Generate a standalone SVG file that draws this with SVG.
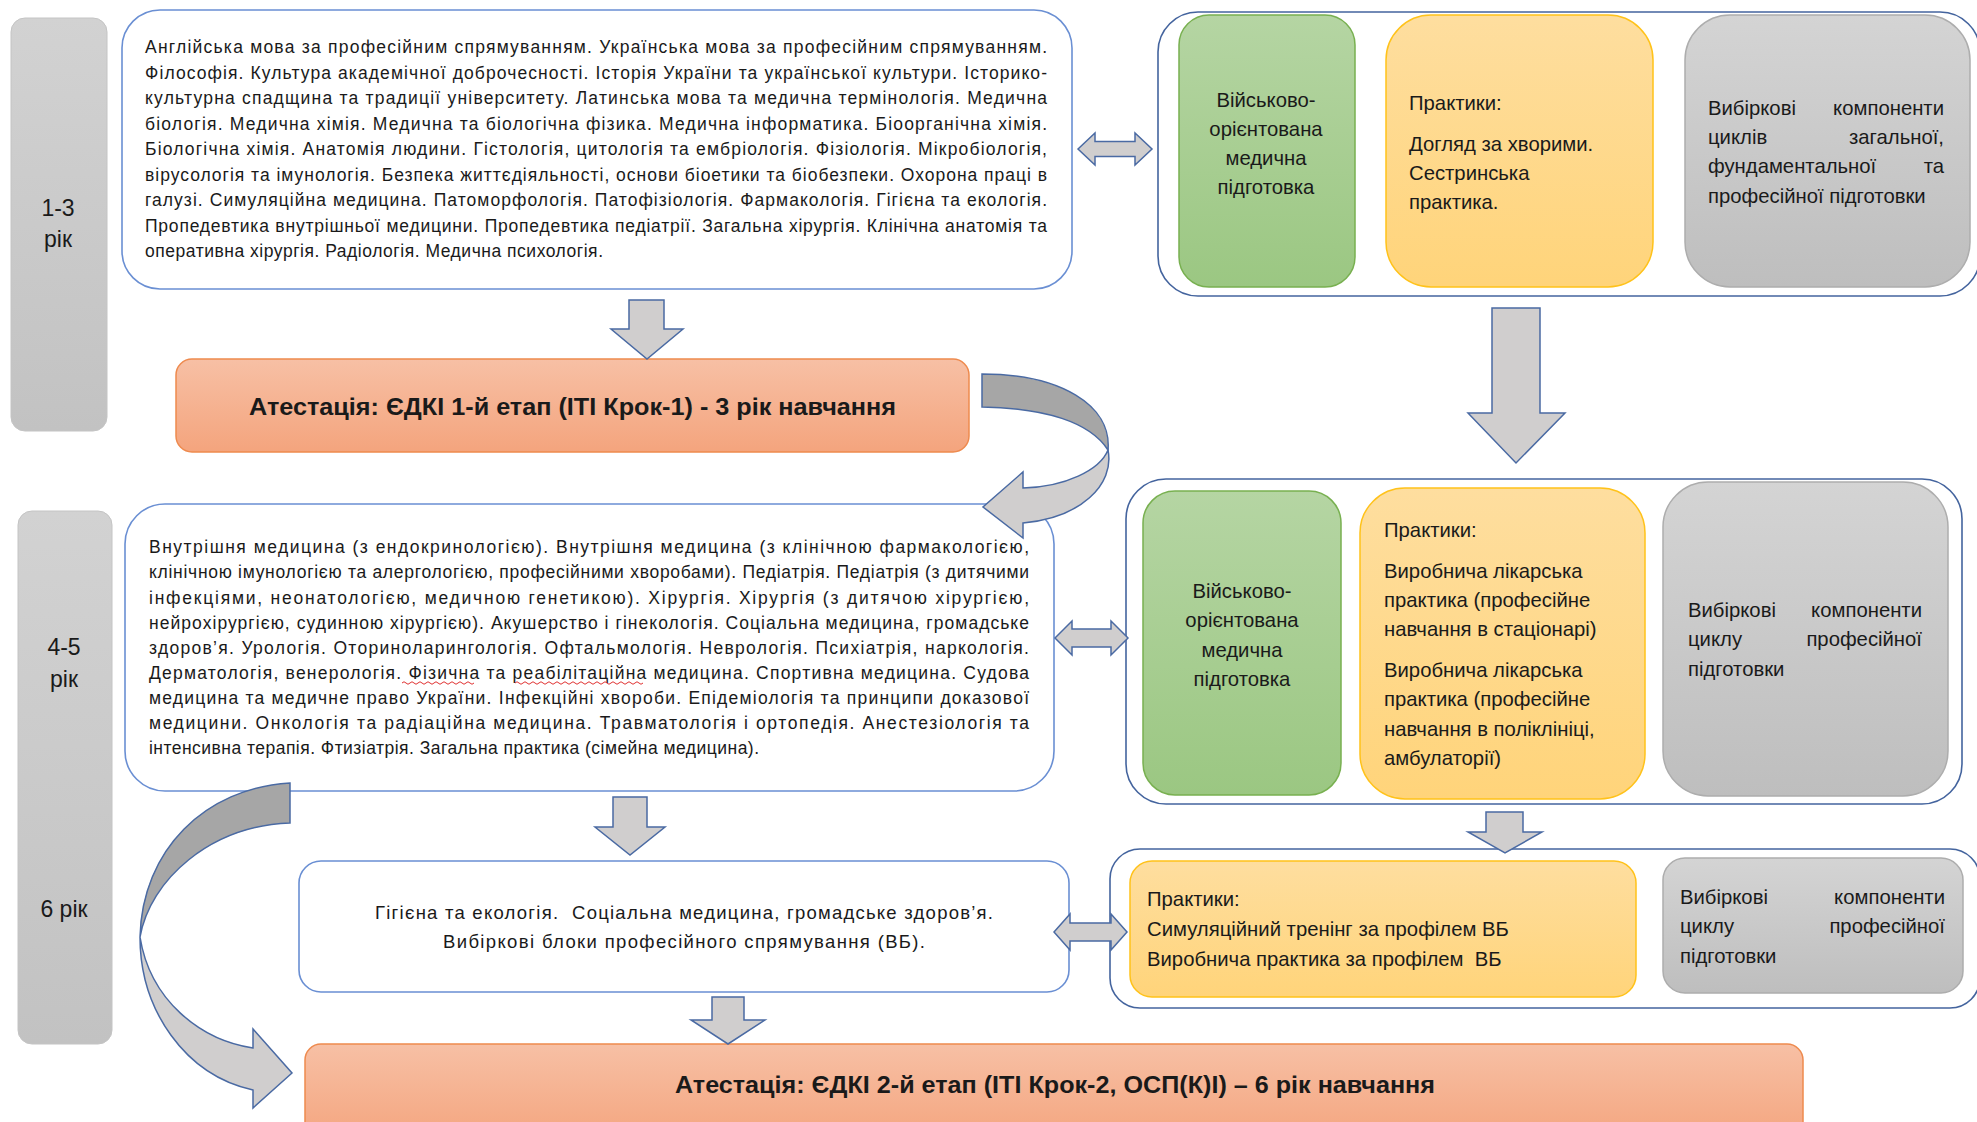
<svg xmlns="http://www.w3.org/2000/svg" width="1977" height="1122" viewBox="0 0 1977 1122">
<defs>
<linearGradient id="gGreen" x1="0" y1="0" x2="0" y2="1"><stop offset="0" stop-color="#B5D5A3"/><stop offset="1" stop-color="#9BC782"/></linearGradient>
<linearGradient id="gYellow" x1="0" y1="0" x2="0" y2="1"><stop offset="0" stop-color="#FEDE9F"/><stop offset="1" stop-color="#FFD47A"/></linearGradient>
<linearGradient id="gGray" x1="0" y1="0" x2="0" y2="1"><stop offset="0" stop-color="#D4D4D4"/><stop offset="1" stop-color="#BEBEBE"/></linearGradient>
<linearGradient id="gOrange" x1="0" y1="0" x2="0" y2="1"><stop offset="0" stop-color="#F7C0A5"/><stop offset="1" stop-color="#F4A47D"/></linearGradient>
<linearGradient id="gBar" x1="0" y1="0" x2="0" y2="1"><stop offset="0" stop-color="#D2D2D2"/><stop offset="1" stop-color="#C2C2C2"/></linearGradient>
</defs>
<style>
.t{font-family:"Liberation Sans",Arial,sans-serif;fill:#1a1a1a}
.body{font-size:17.5px}
.r{font-size:20.3px}
.lbl{font-size:23px}
.att{font-size:24px;font-weight:bold}
.pre{white-space:pre}
.bar{fill:url(#gBar);stroke:#C4C4C4;stroke-width:1}
.wbox{fill:#fff;stroke:#6A8FD3;stroke-width:1.6}
.cont{fill:#fff;stroke:#44649E;stroke-width:1.6}
.green{fill:url(#gGreen);stroke:#78B050;stroke-width:1.5}
.yellow{fill:url(#gYellow);stroke:#FFC21A;stroke-width:1.5}
.gray{fill:url(#gGray);stroke:#ADADAD;stroke-width:1.5}
.orange{fill:url(#gOrange);stroke:#EE8A4E;stroke-width:1.5}
.arr{fill:#D0CECE;stroke:#4A6AA3;stroke-width:1.5;stroke-linejoin:miter}
.arrd{fill:#A6A6A6;stroke:#4A6AA3;stroke-width:1.5}
.sq{fill:none;stroke:#E03030;stroke-width:1}
</style>
<rect width="1977" height="1122" fill="#fff"/>

<g id="bar-1-3">
<rect class="bar" x="11" y="18" width="96" height="413" rx="14"/>
<text class="t lbl" x="58" y="216" text-anchor="middle">1-3</text>
<text class="t lbl" x="58" y="247" text-anchor="middle">рік</text>
</g>
<g id="bar-4-6">
<rect class="bar" x="18" y="511" width="94" height="533" rx="14"/>
<text class="t lbl" x="64" y="655" text-anchor="middle">4-5</text>
<text class="t lbl" x="64" y="687" text-anchor="middle">рік</text>
<text class="t lbl" x="64" y="917" text-anchor="middle">6 рік</text>
</g>

<g id="box1">
<rect class="wbox" x="122" y="10" width="950" height="279" rx="38"/>
<g class="t body">
<text x="145" y="53" textLength="902" lengthAdjust="spacing">Англійська мова за професійним спрямуванням. Українська мова за професійним спрямуванням.</text>
<text x="145" y="78.5" textLength="902" lengthAdjust="spacing">Філософія. Культура академічної доброчесності. Історія України та української культури. Історико-</text>
<text x="145" y="104" textLength="902" lengthAdjust="spacing">культурна спадщина та традиції університету. Латинська мова та медична термінологія. Медична</text>
<text x="145" y="129.5" textLength="902" lengthAdjust="spacing">біологія. Медична хімія. Медична та біологічна фізика. Медична інформатика. Біоорганічна хімія.</text>
<text x="145" y="155" textLength="902" lengthAdjust="spacing">Біологічна хімія. Анатомія людини. Гістологія, цитологія та ембріологія. Фізіологія. Мікробіологія,</text>
<text x="145" y="180.5" textLength="902" lengthAdjust="spacing">вірусологія та імунологія. Безпека життєдіяльності, основи біоетики та біобезпеки. Охорона праці в</text>
<text x="145" y="206" textLength="902" lengthAdjust="spacing">галузі. Симуляційна медицина. Патоморфологія. Патофізіологія. Фармакологія. Гігієна та екологія.</text>
<text x="145" y="231.5" textLength="902" lengthAdjust="spacing">Пропедевтика внутрішньої медицини. Пропедевтика педіатрії. Загальна хірургія. Клінічна анатомія та</text>
<text x="145" y="257" textLength="458" lengthAdjust="spacing">оперативна хірургія. Радіологія. Медична психологія.</text>
</g>
</g>

<g id="cont1">
<rect class="cont" x="1158" y="12" width="822" height="284" rx="40"/>
</g>
<g id="green1">
<rect class="green" x="1179" y="15" width="176" height="272" rx="30"/>
<g class="t r" text-anchor="middle">
<text x="1266" y="107">Військово-</text>
<text x="1266" y="136">орієнтована</text>
<text x="1266" y="165">медична</text>
<text x="1266" y="194">підготовка</text>
</g>
</g>
<g id="yellow1">
<rect class="yellow" x="1386" y="15" width="267" height="272" rx="45"/>
<g class="t r">
<text x="1409" y="110">Практики:</text>
<text x="1409" y="151">Догляд за хворими.</text>
<text x="1409" y="180">Сестринська</text>
<text x="1409" y="209">практика.</text>
</g>
</g>
<g id="gray1">
<rect class="gray" x="1685" y="15" width="285" height="272" rx="45"/>
<g class="t r">
<text x="1708" y="115">Вибіркові</text><text x="1944" y="115" text-anchor="end">компоненти</text>
<text x="1708" y="144">циклів</text><text x="1944" y="144" text-anchor="end">загальної,</text>
<text x="1708" y="173">фундаментальної</text><text x="1944" y="173" text-anchor="end">та</text>
<text x="1708" y="203">професійної підготовки</text>
</g>
</g>

<g id="att1">
<rect class="orange" x="176" y="359" width="793" height="93" rx="16"/>
<text class="t att" x="249" y="415" textLength="647" lengthAdjust="spacingAndGlyphs">Атестація: ЄДКІ 1-й етап (ІТІ Крок-1) - 3 рік навчання</text>
</g>

<g id="box2">
<rect class="wbox" x="125" y="504" width="929" height="287" rx="40"/>
<g class="t body">
<text x="149" y="553" textLength="880" lengthAdjust="spacing">Внутрішня медицина (з ендокринологією). Внутрішня медицина (з клінічною фармакологією,</text>
<text x="149" y="578" textLength="880" lengthAdjust="spacing">клінічною імунологією та алергологією, професійними хворобами). Педіатрія. Педіатрія (з дитячими</text>
<text x="149" y="603.5" textLength="880" lengthAdjust="spacing">інфекціями, неонатологією, медичною генетикою). Хірургія. Хірургія (з дитячою хірургією,</text>
<text x="149" y="628.5" textLength="880" lengthAdjust="spacing">нейрохірургією, судинною хірургією). Акушерство і гінекологія. Соціальна медицина, громадське</text>
<text x="149" y="654" textLength="880" lengthAdjust="spacing">здоров’я. Урологія. Оториноларингологія. Офтальмологія. Неврологія. Психіатрія, наркологія.</text>
<text x="149" y="679" textLength="880" lengthAdjust="spacing">Дерматологія, венерологія. Фізична та реабілітаційна медицина. Спортивна медицина. Судова</text>
<text x="149" y="704" textLength="880" lengthAdjust="spacing">медицина та медичне право України. Інфекційні хвороби. Епідеміологія та принципи доказової</text>
<text x="149" y="729" textLength="880" lengthAdjust="spacing">медицини. Онкологія та радіаційна медицина. Травматологія і ортопедія. Анестезіологія та</text>
<text x="149" y="754" textLength="610" lengthAdjust="spacing">інтенсивна терапія. Фтизіатрія. Загальна практика (сімейна медицина).</text>
</g>
<path class="sq" d="M402,683 q2,-2.5 4,0 t4,0 t4,0 t4,0 t4,0 t4,0 t4,0 t4,0 t4,0 t4,0 t4,0 t4,0 t4,0 t4,0 t4,0 t4,0 t4,0 t4,0"/>
<path class="sq" d="M515,683 q2,-2.5 4,0 t4,0 t4,0 t4,0 t4,0 t4,0 t4,0 t4,0 t4,0 t4,0 t4,0 t4,0 t4,0 t4,0 t4,0 t4,0 t4,0 t4,0 t4,0 t4,0 t4,0 t4,0 t4,0 t4,0 t4,0 t4,0 t4,0 t4,0 t4,0 t4,0 t4,0 t4,0"/>
</g>

<g id="cont2">
<rect class="cont" x="1126" y="479" width="836" height="325" rx="40"/>
</g>
<g id="green2">
<rect class="green" x="1143" y="491" width="198" height="304" rx="32"/>
<g class="t r" text-anchor="middle">
<text x="1242" y="598">Військово-</text>
<text x="1242" y="627">орієнтована</text>
<text x="1242" y="657">медична</text>
<text x="1242" y="686">підготовка</text>
</g>
</g>
<g id="yellow2">
<rect class="yellow" x="1360" y="488" width="285" height="311" rx="45"/>
<g class="t r">
<text x="1384" y="537">Практики:</text>
<text x="1384" y="578">Виробнича лікарська</text>
<text x="1384" y="607">практика (професійне</text>
<text x="1384" y="636">навчання в стаціонарі)</text>
<text x="1384" y="677">Виробнича лікарська</text>
<text x="1384" y="706">практика (професійне</text>
<text x="1384" y="736">навчання в поліклініці,</text>
<text x="1384" y="765">амбулаторії)</text>
</g>
</g>
<g id="gray2">
<rect class="gray" x="1663" y="482" width="285" height="314" rx="45"/>
<g class="t r">
<text x="1688" y="617">Вибіркові</text><text x="1922" y="617" text-anchor="end">компоненти</text>
<text x="1688" y="646">циклу</text><text x="1922" y="646" text-anchor="end">професійної</text>
<text x="1688" y="676">підготовки</text>
</g>
</g>

<g id="box5">
<rect class="wbox" x="299" y="861" width="770" height="131" rx="22"/>
<g class="t" style="font-size:18.5px">
<text class="pre" x="375" y="919" textLength="618" lengthAdjust="spacing">Гігієна та екологія.  Соціальна медицина, громадське здоров’я.</text>
<text x="443" y="948" textLength="482" lengthAdjust="spacing">Вибіркові блоки професійного спрямування (ВБ).</text>
</g>
</g>

<g id="cont3">
<rect class="cont" x="1110" y="849" width="870" height="159" rx="30"/>
</g>
<g id="yellow3">
<rect class="yellow" x="1130" y="861" width="506" height="136" rx="22"/>
<g class="t r">
<text x="1147" y="906">Практики:</text>
<text x="1147" y="936">Симуляційний тренінг за профілем ВБ</text>
<text class="pre" x="1147" y="966">Виробнича практика за профілем  ВБ</text>
</g>
</g>
<g id="gray3">
<rect class="gray" x="1663" y="858" width="300" height="135" rx="22"/>
<g class="t r">
<text x="1680" y="904">Вибіркові</text><text x="1945" y="904" text-anchor="end">компоненти</text>
<text x="1680" y="933">циклу</text><text x="1945" y="933" text-anchor="end">професійної</text>
<text x="1680" y="963">підготовки</text>
</g>
</g>

<g id="att2">
<rect class="orange" x="305" y="1044" width="1498" height="100" rx="16"/>
<text class="t att" x="675" y="1093" textLength="760" lengthAdjust="spacingAndGlyphs">Атестація: ЄДКІ 2-й етап (ІТІ Крок-2, ОСП(К)І) – 6 рік навчання</text>
</g>

<g id="connectors">
<path class="arr" d="M1078,149 L1095,133 L1095,141.5 L1135,141.5 L1135,133 L1152,149 L1135,165 L1135,156.5 L1095,156.5 L1095,165 Z"/>
<path class="arr" d="M1055,638 L1072,621 L1072,629 L1111,629 L1111,621 L1128,638 L1111,655 L1111,647 L1072,647 L1072,655 Z"/>
<path class="arr" d="M1054,932 L1070,914 L1070,923 L1111,923 L1111,914 L1127,932 L1111,950 L1111,941 L1070,941 L1070,950 Z"/>
<path class="arr" d="M629,300 L664,300 L664,329 L683,329 L647,359 L611,329 L629,329 Z"/>
<path class="arr" d="M1492,308 L1540,308 L1540,413 L1565,413 L1516,463 L1468,413 L1492,413 Z"/>
<path class="arr" d="M1486,812 L1523,812 L1523,832 L1542,832 L1505,853 L1468,832 L1486,832 Z"/>
<path class="arr" d="M613,797 L647,797 L647,827 L665,827 L630,855 L595,827 L613,827 Z"/>
<path class="arr" d="M712,997 L744,997 L744,1020 L765,1020 L728,1044 L691,1020 L712,1020 Z"/>
<path class="arrd" d="M982,374 C1060,374 1112,405 1108,450 C1090,422 1045,408 982,407 Z"/>
<path class="arr" d="M1108,450 C1115,485 1080,518 1023,523 L1023,538 L983,507 L1023,472 L1023,488 C1065,487 1100,470 1108,450 Z"/>
<path class="arrd" d="M290,783 C205,788 142,850 140,937 C150,880 210,826 290,823 Z"/>
<path class="arr" d="M140,937 C140,1010 185,1075 253,1090 L253,1108 L292,1073 L253,1029 L253,1048 C200,1040 150,1000 140,937 Z"/>
</g>
</svg>
